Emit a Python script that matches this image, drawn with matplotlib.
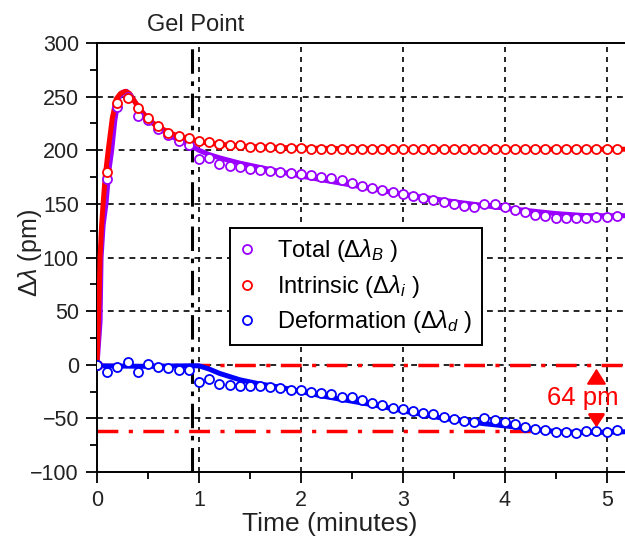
import numpy as np
import matplotlib
matplotlib.use("Agg")
import matplotlib.pyplot as plt

plt.rcParams['font.family'] = ['Liberation Sans', 'DejaVu Sans']
plt.rcParams['mathtext.fontset'] = 'custom'
plt.rcParams['mathtext.rm'] = 'Liberation Sans'
plt.rcParams['mathtext.it'] = 'Liberation Sans:italic'

# measured points (minutes)
time = [0.0, 0.1, 0.2, 0.3, 0.4, 0.5, 0.6, 0.7, 0.8, 0.9,
        1.0, 1.1, 1.2, 1.3, 1.4, 1.5, 1.6, 1.7, 1.8, 1.9,
        2.0, 2.1, 2.2, 2.3, 2.4, 2.5, 2.6, 2.7, 2.8, 2.9,
        3.0, 3.1, 3.2, 3.3, 3.4, 3.5, 3.6, 3.7, 3.8, 3.9,
        4.0, 4.1, 4.2, 4.3, 4.4, 4.5, 4.6, 4.7, 4.8, 4.9,
        5.0, 5.1]
total = [0, 173, 240, 250, 232, 228, 220, 214, 209, 205,
         192, 193, 187, 185.5, 184, 183, 182, 181, 180, 179,
         178, 177, 175.5, 174, 172, 169.5, 167, 165, 163, 161.5,
         159.5, 157.5, 155.5, 153.5, 151.5, 150, 148, 147.5, 150, 149.5,
         147.5, 144.5, 142, 140, 138.5, 137, 136.5, 136.5, 137, 138,
         138, 138.5]
intrinsic = [0, 179.5, 244, 249, 239, 230.5, 222.5, 216.5, 213.5, 211,
             209, 207.5, 206, 205, 204.5, 203.5, 203, 203, 202.5, 202,
             202, 201.5, 201.5, 201, 201, 201.5, 201, 201, 201, 201,
             201.5, 201, 201, 201, 201, 201, 201, 201, 201.5, 201,
             201, 201, 201, 201, 201, 201.5, 201, 201, 201, 201,
             201, 201]
deformation = [0, -6.4, -1.8, 2.9, -7, 0.7, -1.8, -3.4, -4.9, -4.9,
               -15.8, -13.6, -18, -19, -20, -19.8, -19.8, -21, -22, -23.5,
               -24, -25.5, -26, -27.3, -29.8, -30.4, -32.9, -35.4, -38, -40,
               -41.3, -43, -44.7, -46.2, -49, -50.9, -52.1, -53, -50, -51.5,
               -53, -55.2, -58.3, -60.2, -60.8, -62.4, -62.4, -63.3, -61.4, -61.4,
               -62.4, -60.8]

# fitted curves
fit_t_total = [0, 0.03, 0.04, 0.06, 0.088, 0.115, 0.144, 0.175, 0.21, 0.25, 0.29, 0.33,
               0.38, 0.45, 0.55, 0.65, 0.75, 0.85, 0.9, 1.0, 1.1, 1.2, 1.4, 1.6, 1.8,
               2.0, 2.5, 3.0, 3.5, 4.0, 4.5, 4.8, 5.18]
fit_total = [0, 40, 100, 130, 150, 180, 200, 228, 248, 254, 255, 251,
             244, 235, 225, 218, 212, 208, 206, 200, 196, 193, 188, 184, 180,
             176, 167.5, 159, 152, 146, 141, 139, 139]
fit_t_intr = [0, 0.02, 0.03, 0.045, 0.06, 0.08, 0.11, 0.15, 0.19, 0.23, 0.28, 0.32,
              0.36, 0.42, 0.5, 0.6, 0.7, 0.8, 0.9, 1.0, 1.2, 1.5, 2.0, 3.0, 4.0, 5.18]
fit_intr = [0, 60, 100, 130, 150, 175, 200, 230, 248, 253, 255, 253,
            247, 238, 229, 222, 217, 213, 210.5, 208, 205.5, 203.5, 202, 201, 201, 201]
fit_t_def = [0, 0.5, 0.9, 1.0, 1.1, 1.2, 1.3, 1.4, 1.6, 1.8, 2.0, 2.2, 2.5, 2.8, 3.0,
             3.4, 3.8, 4.15, 4.3, 4.6, 5.0, 5.18]
fit_def = [-1, -1.5, -1, -1, -4, -8, -11, -14, -18, -21, -25, -29, -34, -39, -43,
           -50, -55, -58.5, -60.5, -63, -63, -62.5]

gel_point = 0.93
shift_lines = [0, -62]

purple = '#9a00ff'
red = '#ff0000'
blue = '#0000ff'
txt = '#222222'

fig = plt.figure(figsize=(6.25, 5.45), dpi=100)
ax = fig.add_axes([0.1552, 0.134, 0.8448, 0.787])

ax.set_xlim(0, 5.18)
ax.set_ylim(-100, 300)

# grid
for x in [1, 2, 3, 4, 5]:
    ax.axvline(x, color='black', lw=1.2, ls=(0, (3, 3)), zorder=1)
for y in [-50, 0, 50, 100, 150, 200, 250]:
    ax.axhline(y, color='black', lw=1.2, ls=(0, (3.5, 3)), zorder=1)

# reference lines
for y in shift_lines:
    ax.axhline(y, color=red, lw=2.5, ls=(0, (6, 3, 1.2, 3)), zorder=2)
ax.axvline(gel_point, color='black', lw=2.2, ls=(0, (8, 2.5, 1.5, 2.5)), zorder=2)

# fits
ax.plot(fit_t_total, fit_total, color=purple, lw=3.6, zorder=3)
ax.plot(fit_t_intr, fit_intr, color=red, lw=3.6, zorder=3)
ax.plot(fit_t_def, fit_def, color=blue, lw=3.6, zorder=3)

mk = dict(ls='none', marker='o', ms=6.5, mew=1.3, mfc='white', zorder=4)
ax.plot(time, total, mec=purple, label=r'Total ($\Delta\lambda_B$ )', **mk)
ax.plot(time, intrinsic, mec=red, label=r'Intrinsic ($\Delta\lambda_i$ )', **mk)
ax.plot(time, deformation, mec=blue, label=r'Deformation ($\Delta\lambda_d$ )', **mk)

# 64 pm annotation
ax.annotate('', xy=(4.9, -1), xytext=(4.9, -14),
            arrowprops=dict(arrowstyle='-|>,head_length=0.95,head_width=0.6',
                            color=red, lw=1.5), zorder=5)
ax.annotate('', xy=(4.9, -61), xytext=(4.9, -46),
            arrowprops=dict(arrowstyle='-|>,head_length=0.75,head_width=0.5',
                            color=red, lw=2), zorder=5)
ax.text(4.77, -31, '64 pm', color=red, fontsize=18.5, ha='center', va='center', zorder=5)

ax.text(0.97, 307, 'Gel Point', fontsize=17, ha='center', va='bottom', color=txt)

ax.set_xticks([0, 1, 2, 3, 4, 5])
ax.set_xticks([0.5, 1.5, 2.5, 3.5, 4.5], minor=True)
ax.set_yticks(range(-100, 301, 50))
ax.set_yticks(range(-75, 300, 50), minor=True)
ax.tick_params(which='major', direction='out', length=8, width=1.3, labelsize=15.5,
               labelcolor=txt, top=False, right=False, pad=5)
ax.tick_params(which='minor', direction='out', length=5, width=1.3, top=False, right=False)
ax.spines['right'].set_visible(False)
for s in ['left', 'bottom', 'top']:
    ax.spines[s].set_linewidth(1.4)

ax.set_xlabel('Time (minutes)', fontsize=19, color=txt)
ax.xaxis.set_label_coords(0.441, -0.093)
ax.set_ylabel(r'$\Delta\lambda$ (pm)', fontsize=18, color=txt, va='center')
ax.yaxis.set_label_coords(-0.127, 0.51)

leg = ax.legend(loc='upper left', bbox_to_anchor=(0.252, 0.569), fontsize=17,
                frameon=True, fancybox=False, edgecolor='black', framealpha=1,
                handlelength=0.6, handletextpad=1.0, borderpad=0.4, labelspacing=0.36,
                borderaxespad=0)
leg.get_frame().set_linewidth(1.4)
leg.set_zorder(6)

fig.savefig('out.png', dpi=100)
